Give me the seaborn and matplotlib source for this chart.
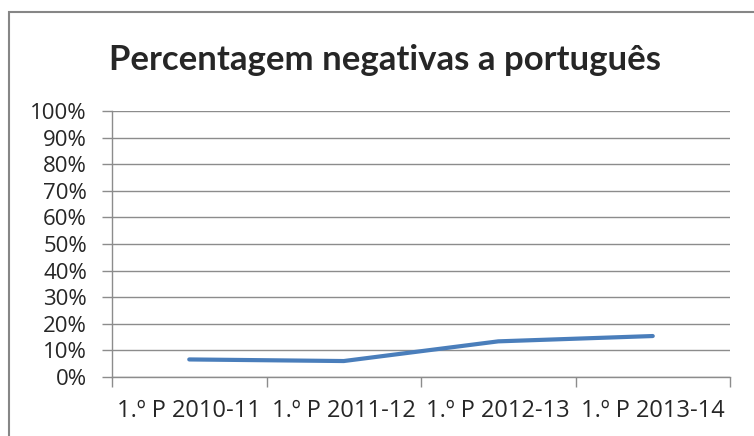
import numpy as np
import pandas as pd
import matplotlib.pyplot as plt
import seaborn as sns
from matplotlib.patches import Rectangle

# Chart data
periods = ['1.º P 2010-11', '1.º P 2011-12', '1.º P 2012-13', '1.º P 2013-14']
pct_negativas = [6.6, 6.0, 13.4, 15.4]
y_ticks = list(range(0, 101, 10))
y_labels = [f'{v}%' for v in y_ticks]

df = pd.DataFrame({'periodo': periods, 'pct': pct_negativas})

sns.set_style('white')
plt.rcParams['font.family'] = ['Open Sans', 'DejaVu Sans']

fig = plt.figure(figsize=(7.54, 4.36), dpi=100)
ax = fig.add_axes([112 / 754, 1 - 377 / 436, 618 / 754, 266 / 436])

grey = '#8c8c8c'

sns.lineplot(data=df, x='periodo', y='pct', ax=ax, color='#4a7ebb',
             linewidth=3.0, solid_capstyle='round', sort=False)

ax.set_xlim(-0.5, len(periods) - 0.5)
ax.set_ylim(0, 100)
ax.set_yticks(y_ticks)
ax.set_yticklabels(y_labels)
ax.yaxis.grid(True, color=grey, linewidth=1.0)
ax.xaxis.grid(False)

# category boundary ticks on x axis
ax.set_xticks(np.arange(-0.5, len(periods), 1.0), minor=True)
ax.tick_params(axis='x', which='minor', length=7, width=1, color=grey, direction='out', bottom=True)
ax.tick_params(axis='x', which='major', length=0, pad=16, labelsize=17)
ax.tick_params(axis='y', which='major', length=7, width=1, color=grey, direction='out', left=True, pad=11, labelsize=16)
ax.set_xlabel('')
ax.set_ylabel('')

for side in ['top', 'right']:
    ax.spines[side].set_visible(False)
for side in ['left', 'bottom']:
    ax.spines[side].set_color(grey)
    ax.spines[side].set_linewidth(1.0)

fig.text(385 / 754, 1 - 60 / 436, 'Percentagem negativas a português',
         ha='center', va='center', fontsize=25, fontweight='bold', family='Lato')

# chart frame
fig.patches.append(Rectangle((8.5 / 754, -0.1), 1.0, 1 - 12.5 / 436 + 0.1,
                             transform=fig.transFigure, fill=False,
                             edgecolor='#868686', linewidth=1.5))

fig.savefig('out.png', dpi=100)
